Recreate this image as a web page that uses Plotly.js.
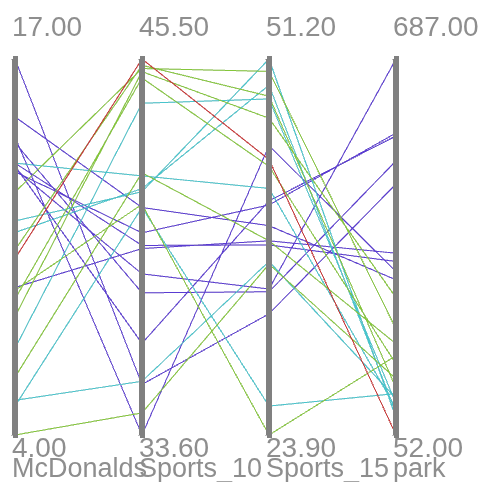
<!DOCTYPE html>
<html><head><meta charset="utf-8">
<script src="https://cdn.plot.ly/plotly-3.0.1.min.js"></script>
<style>
html,body{margin:0;padding:0;background:#fff;}
#chart{width:485px;height:482px;}
.js-plotly-plot path.domain{stroke:#808080 !important;stroke-opacity:1 !important;stroke-width:6px !important;}
</style></head><body><div id="chart"></div>
<script>
const dimNames = ['McDonalds', 'Sports_10', 'Sports_15', 'park'];
const mcdonalds = [17.0, 15.0, 14.3, 14.1, 13.4, 13.3, 13.2, 9.1, 13.1, 13.4, 11.4, 7.0, 5.2, 5.0, 11.0, 12.4, 9.0, 8.1, 8.7, 6.0, 4.0, 10.4, 10.1];
const sports10  = [35.2, 40.8, 33.6, 38.1, 39.6, 36.5, 38.7, 39.5, 40.0, 41.8, 41.3, 44.1, 35.3, 40.8, 41.4, 45.2, 40.9, 45.1, 44.9, 41.9, 34.3, 45.3, 45.5];
const sports15  = [32.7, 39.1, 44.9, 34.3, 37.7, 40.9, 34.5, 38.0, 40.6, 41.8, 51.2, 48.3, 36.5, 26.0, 49.3, 50.3, 23.9, 46.9, 43.4, 38.0, 36.3, 48.5, 43.9];
const park      = [476, 314, 328, 515, 345, 557, 687, 359, 562, 97, 81, 105, 114, 122, 89, 231, 186, 284, 172, 206, 147, 131, 52];
const group     = [0, 0, 0, 0, 0, 0, 0, 0, 0, 1, 1, 1, 1, 1, 1, 2, 2, 2, 2, 2, 2, 2, 3];
const groupColors = ['#5a3cd2', '#48c4cc', '#84c63a', '#c83030'];

const series = [mcdonalds, sports10, sports15, park];
const colorscale = [
  [0, groupColors[0]], [0.2, groupColors[0]],
  [0.2, groupColors[1]], [0.5, groupColors[1]],
  [0.5, groupColors[2]], [0.8, groupColors[2]],
  [0.8, groupColors[3]], [1, groupColors[3]]
];

const dims = series.map((vals, i) => ({
  label: '',
  values: vals,
  range: [Math.min(...vals), Math.max(...vals)],
  tickvals: [],
  ticktext: []
}));

const font = 'Liberation Sans, Arial, sans-serif';
const txtColor = '#8e8e8e';
const annotations = [];
series.forEach((vals, i) => {
  const x = i / (series.length - 1);
  annotations.push({xref: 'paper', yref: 'paper', x: x, y: 1, xanchor: 'left', yanchor: 'bottom',
    yshift: 13, xshift: -5, showarrow: false, text: Math.max(...vals).toFixed(2), font: {family: font, size: 28, color: txtColor}});
  annotations.push({xref: 'paper', yref: 'paper', x: x, y: 0, xanchor: 'left', yanchor: 'top',
    yshift: 7, xshift: -5, showarrow: false, text: Math.min(...vals).toFixed(2), font: {family: font, size: 28, color: txtColor}});
  annotations.push({xref: 'paper', yref: 'paper', x: x, y: 0, xanchor: 'left', yanchor: 'top',
    yshift: -14, xshift: -5, showarrow: false, text: dimNames[i], font: {family: font, size: 27, color: txtColor}});
});

const data = [{
  type: 'parcoords',
  line: {color: group, colorscale: colorscale, cmin: 0, cmax: 3, showscale: false},
  dimensions: dims,
  tickfont: {size: 1, color: 'rgba(0,0,0,0)'},
  labelfont: {size: 1, color: 'rgba(0,0,0,0)'},
  rangefont: {size: 1, color: 'rgba(0,0,0,0)'}
}];

const layout = {
  width: 485, height: 482,
  margin: {l: 15, r: 89, t: 57, b: 45},
  paper_bgcolor: '#ffffff',
  plot_bgcolor: '#ffffff',
  showlegend: false,
  annotations: annotations
};

Plotly.newPlot('chart', data, layout, {staticPlot: true, displayModeBar: false, plotGlPixelRatio: 1});
</script></body></html>
